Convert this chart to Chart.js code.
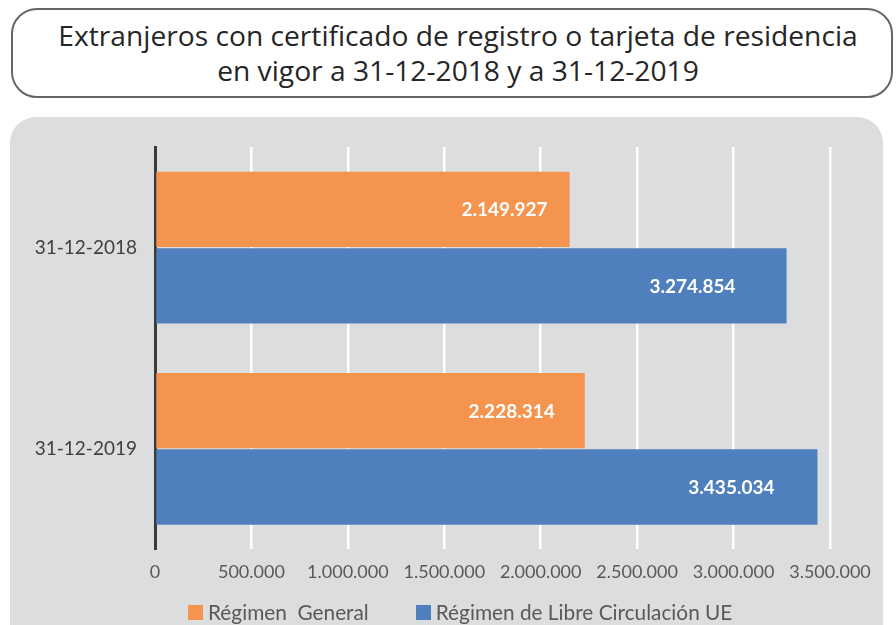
<!DOCTYPE html>
<html>
<head>
<meta charset="utf-8">
<script src="https://cdn.jsdelivr.net/npm/chart.js@4/dist/chart.umd.min.js"></script>
<style>
  body { margin: 0; background: #fff; width: 896px; height: 625px; overflow: hidden; position: relative; }
  #titulo {
    position: absolute; left: 11px; top: 8px; width: 882px; height: 90px;
    border: 2px solid #666; border-radius: 26px; box-sizing: border-box;
    font-family: "Open Sans", sans-serif; font-size: 28.2px; color: #262626;
    text-align: center; line-height: 35px; padding-top: 8px; padding-left: 12px;
  }
  #panel {
    position: absolute; left: 10px; top: 117px; width: 873px; height: 540px;
    background: #dcdddf; border-radius: 26px;
  }
  #wrap { position: absolute; left: 0; top: 0; width: 873px; height: 520px; }
  #leyenda {
    position: absolute; left: 188px; top: 600px; display: flex; align-items: center;
    font-family: Lato, sans-serif; font-size: 20.8px; color: #595959; line-height: 24px;
  }
  #leyenda span.cuadro { display: inline-block; width: 15px; height: 15px; margin-right: 5px; }
  #leyenda div { display: flex; align-items: center; margin-right: 47px; white-space: pre; }
</style>
</head>
<body>
<div id="titulo">Extranjeros con certificado de registro o tarjeta de residencia<br>en vigor a 31-12-2018 y a 31-12-2019</div>
<div id="panel"><div id="wrap"><canvas id="grafico"></canvas></div></div>
<div id="leyenda"></div>
<script>
// datos
const fechas = ["31-12-2018", "31-12-2019"];
const regimenGeneral = [2149927, 2228314];
const libreCirculacion = [3274854, 3435034];
const nombres = ["Régimen  General", "Régimen de Libre Circulación UE"];
const colores = ["#f4944f", "#4f7fbd"];

function formato(n) {
    return String(n).replace(/\B(?=(\d{3})+(?!\d))/g, ".");
}

// etiquetas blancas dentro de la barra (separación desde el extremo, por barra)
const etiquetas = {
    id: "etiquetas",
    afterDatasetsDraw(chart, args, opts) {
        const ctx = chart.ctx;
        ctx.save();
        ctx.font = "bold 19px Lato";
        ctx.fillStyle = "#ffffff";
        ctx.textAlign = "right";
        ctx.textBaseline = "middle";
        chart.data.datasets.forEach((ds, i) => {
            chart.getDatasetMeta(i).data.forEach((bar, j) => {
                ctx.fillText(formato(ds.data[j]), bar.x - opts.separacion[i][j], bar.y + 1);
            });
        });
        ctx.restore();
    }
};

const ctx = document.getElementById("grafico").getContext("2d");
const grafico = new Chart(ctx, {
    type: "bar",
    data: {
        labels: fechas,
        datasets: [
            { label: nombres[0], data: regimenGeneral, backgroundColor: colores[0] },
            { label: nombres[1], data: libreCirculacion, backgroundColor: colores[1] }
        ]
    },
    options: {
        indexAxis: "y",
        responsive: true,
        maintainAspectRatio: false,
        animation: false,
        layout: { padding: { left: 10, right: 53, top: 30, bottom: 42 } },
        datasets: { bar: { categoryPercentage: 0.76, barPercentage: 0.985 } },
        scales: {
            x: {
                min: 0, max: 3500000,
                ticks: {
                    stepSize: 500000,
                    padding: 12,
                    color: "#595959",
                    font: { family: "Lato", size: 18 },
                    callback: v => formato(v)
                },
                grid: { color: "#ffffff", lineWidth: 2.5, drawTicks: false },
                border: { display: false }
            },
            y: {
                ticks: { padding: 18, color: "#404040", font: { family: "Lato", size: 19 } },
                grid: { display: false, drawTicks: false },
                border: { display: true, color: "#3a3a3a", width: 3 },
                afterFit: s => { s.width = 135; }
            }
        },
        plugins: {
            legend: { display: false },
            tooltip: { enabled: false },
            etiquetas: { separacion: [[22, 30], [51, 43]] }
        }
    },
    plugins: [etiquetas]
});

// leyenda en HTML a partir de los datasets
const leyenda = document.getElementById("leyenda");
grafico.data.datasets.forEach(ds => {
    const item = document.createElement("div");
    const cuadro = document.createElement("span");
    cuadro.className = "cuadro";
    cuadro.style.background = ds.backgroundColor;
    item.appendChild(cuadro);
    item.appendChild(document.createTextNode(ds.label));
    leyenda.appendChild(item);
});
</script>
</body>
</html>
